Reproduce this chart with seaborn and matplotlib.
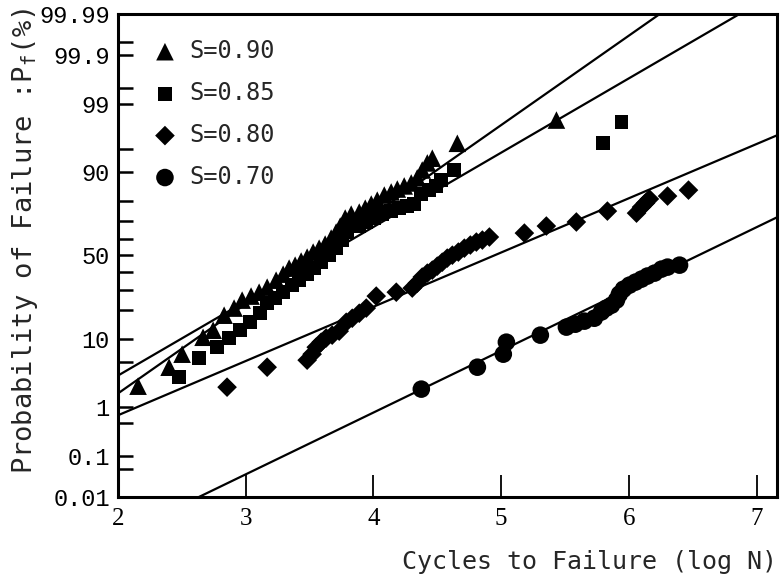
import numpy as np
import pandas as pd
import matplotlib
matplotlib.use("Agg")
import matplotlib.pyplot as plt
import seaborn as sns
from statistics import NormalDist

# --- data (log N, failure probability in %) ---
s090_logn = [2.157, 2.400, 2.502, 2.666, 2.745, 2.831, 2.909, 2.972, 3.042, 3.105,
             3.168, 3.238, 3.293, 3.340, 3.387, 3.434, 3.481, 3.528, 3.575, 3.622,
             3.669, 3.708, 3.740, 3.779, 3.826, 3.889, 3.936, 3.983, 4.030, 4.085,
             4.139, 4.187, 4.241, 4.296, 4.343, 4.382, 4.422, 4.461, 4.657, 5.433]
s090_pf = [2.21, 4.27, 6.43, 10.4, 12.5, 17.9, 20.9, 24.6, 26.6, 28.6,
           31.3, 35.2, 38.7, 42.3, 44.1, 46.6, 49.0, 52.1, 54.5, 57.0,
           60.6, 64.1, 67.5, 71.8, 73.8, 74.8, 76.7, 78.6, 80.3, 82.4,
           83.6, 84.7, 85.8, 86.8, 88.4, 90.6, 92.3, 93.3, 95.8, 98.15]

s085_logn = [2.478, 2.635, 2.776, 2.870, 2.956, 3.034, 3.113, 3.168, 3.230, 3.293,
             3.364, 3.418, 3.481, 3.536, 3.591, 3.654, 3.708, 3.755, 3.795, 3.834,
             3.889, 3.944, 4.006, 4.069, 4.139, 4.202, 4.265, 4.320, 4.375, 4.437,
             4.492, 4.531, 4.633, 5.801, 5.942]
s085_pf = [3.05, 5.7, 7.9, 10.2, 12.5, 15.2, 18.7, 23.2, 25.6, 28.6,
           32.4, 35.2, 38.7, 42.3, 45.9, 50.2, 54.5, 59.4, 64.1, 69.7,
           67.5, 69.7, 71.8, 73.8, 75.3, 76.7, 77.7, 78.6, 82.8, 84.3,
           85.8, 87.7, 90.6, 95.8, 98.0]

s080_logn = [2.854, 3.168, 3.481, 3.520, 3.552, 3.591, 3.630, 3.677, 3.732, 3.787,
             3.834, 3.889, 3.944, 4.022, 4.179, 4.304, 4.343, 4.382, 4.422, 4.461,
             4.500, 4.539, 4.578, 4.618, 4.665, 4.712, 4.759, 4.806, 4.853, 4.908,
             5.182, 5.354, 5.589, 5.832, 6.060, 6.099, 6.130, 6.161, 6.303, 6.467]
s080_pf = [2.13, 4.27, 5.35, 6.43, 7.9, 9.1, 10.2, 11.0, 12.2, 15.2,
           16.7, 18.7, 20.9, 26.6, 28.6, 30.8, 33.5, 37.0, 39.3, 41.1,
           43.5, 45.9, 48.4, 50.2, 52.1, 54.5, 56.4, 58.2, 59.4, 61.2,
           63.5, 67.5, 69.7, 75.3, 74.3, 77.2, 79.0, 80.8, 82.0, 84.3]

s070_logn = [4.375, 4.814, 5.017, 5.041, 5.307, 5.511, 5.581, 5.652, 5.730, 5.785,
             5.824, 5.864, 5.903, 5.926, 5.958, 6.005, 6.052, 6.099, 6.146, 6.201,
             6.256, 6.303, 6.397]
s070_pf = [1.98, 4.27, 6.43, 9.1, 11.0, 13.5, 14.5, 15.6, 16.7, 19.2,
           20.9, 22.2, 24.6, 27.6, 30.2, 32.4, 34.1, 35.8, 37.6, 39.3,
           41.7, 42.9, 44.1]

# log-normal fit lines: mean and std of log N for each stress level
stress_labels = ["S=0.90", "S=0.85", "S=0.80", "S=0.70"]
fit_mu = [3.542, 3.616, 4.945, 6.542]
fit_sigma = [0.726, 0.874, 1.197, 1.051]

y_major = [0.01, 0.1, 1, 10, 50, 90, 99, 99.9, 99.99]
y_major_labels = ["0.01", "0.1", "1", "10", "50", "90", "99", "99.9", "99.99"]
y_minor = [0.05, 0.5, 5, 20, 30, 40, 60, 70, 80, 95, 99.5, 99.95]
x_ticks = [2, 3, 4, 5, 6, 7]

nd = NormalDist()
_ppf = np.vectorize(lambda p: nd.inv_cdf(min(max(p / 100.0, 1e-9), 1 - 1e-9)),
                    otypes=[float])
_cdf = np.vectorize(lambda z: 100.0 * nd.cdf(z), otypes=[float])


def prob_fwd(p):
    return _ppf(np.asarray(p, dtype=float))


def prob_inv(z):
    return _cdf(np.asarray(z, dtype=float))


points = pd.concat([
    pd.DataFrame({"logN": s090_logn, "Pf": s090_pf, "S": stress_labels[0]}),
    pd.DataFrame({"logN": s085_logn, "Pf": s085_pf, "S": stress_labels[1]}),
    pd.DataFrame({"logN": s080_logn, "Pf": s080_pf, "S": stress_labels[2]}),
    pd.DataFrame({"logN": s070_logn, "Pf": s070_pf, "S": stress_labels[3]}),
], ignore_index=True)

x_grid = np.linspace(1.9, 7.3, 200)
fits = pd.concat([
    pd.DataFrame({"logN": x_grid, "Pf": prob_inv((x_grid - mu) / sd), "S": lab})
    for lab, mu, sd in zip(stress_labels, fit_mu, fit_sigma)
], ignore_index=True)
fits = fits[(fits["Pf"] > 0.005) & (fits["Pf"] < 99.995)]

sns.set_theme(style="white")
plt.rcParams["font.family"] = ["DejaVu Sans Mono"]

fig = plt.figure(figsize=(7.8, 5.79), dpi=100)
ax = fig.add_axes([118 / 780, 1 - 497 / 579, 659 / 780, 483 / 579])
ax.set_yscale("function", functions=(prob_fwd, prob_inv))

sns.lineplot(data=fits, x="logN", y="Pf", units="S", estimator=None,
             color="black", lw=1.6, ax=ax, legend=False, sort=True)

marker_map = {"S=0.90": "^", "S=0.85": "s", "S=0.80": "D", "S=0.70": "o"}
size_map = {"S=0.90": 160, "S=0.85": 100, "S=0.80": 100, "S=0.70": 160}
for lab in stress_labels:
    sub = points[points["S"] == lab]
    sns.scatterplot(data=sub, x="logN", y="Pf", marker=marker_map[lab],
                    s=size_map[lab], color="black", edgecolor="none",
                    ax=ax, label=lab, zorder=3)

ax.set_xlim(2, 7.16)
ax.set_ylim(0.01, 99.99)

ax.set_yticks(y_major)
ax.set_yticklabels(y_major_labels, family="Liberation Mono", fontsize=17)
ax.set_yticks(y_minor, minor=True)
ax.set_xticks(x_ticks)
ax.set_xticklabels([str(t) for t in x_ticks], family="Liberation Serif", fontsize=18)

ax.tick_params(axis="y", which="both", direction="in", length=11, width=1.8,
               left=True, pad=6, colors="black")
ax.tick_params(axis="x", which="major", direction="in", length=16, width=1.3,
               bottom=True, pad=8, colors="black")
for sp in ax.spines.values():
    sp.set_visible(True)
    sp.set_color("black")
    sp.set_linewidth(2.2)

ax.set_xlabel("Cycles to Failure (log N)", fontsize=18, loc="right", labelpad=14)
ax.set_ylabel(r"Probability of Failure :P$_{\mathregular{f}}$(%)", fontsize=19.5)
ax.yaxis.set_label_coords(-0.118, 0.53)

leg = ax.legend(loc="upper left", frameon=False, fontsize=17,
                bbox_to_anchor=(0.039, 0.968), borderaxespad=0,
                handlelength=1.0, handletextpad=0.55, labelspacing=0.76)

fig.savefig("out.png", dpi=100, facecolor="white")
